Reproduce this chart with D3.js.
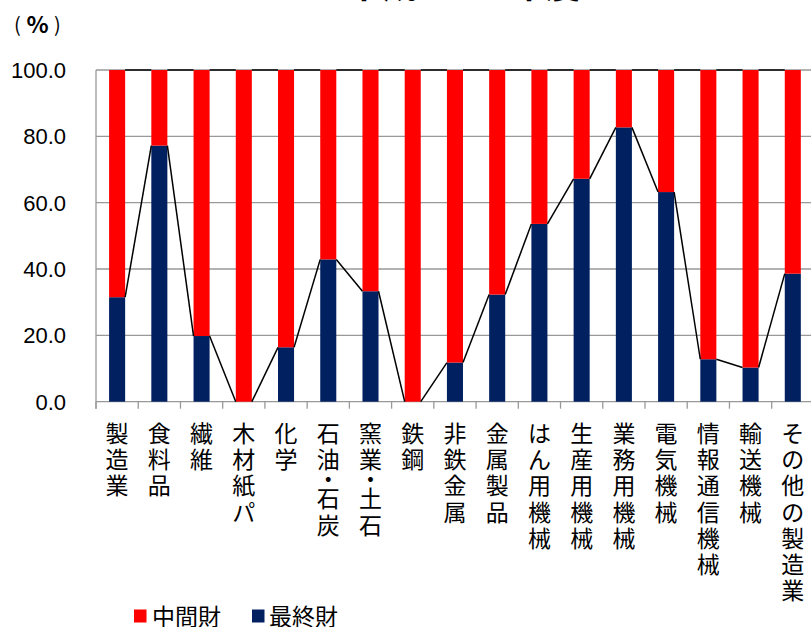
<!DOCTYPE html>
<html><head><meta charset="utf-8">
<script src="https://cdn.jsdelivr.net/npm/d3@7"></script>
<style>
html,body{margin:0;padding:0;background:#fff;}
svg{display:block;}
</style></head>
<body>
<script>
const categories = ["製造業","食料品","繊維","木材紙パ","化学","石油・石炭","窯業・土石","鉄鋼","非鉄金属","金属製品","はん用機械","生産用機械","業務用機械","電気機械","情報通信機械","輸送機械","その他の製造業"];
const finalGoods = [31.5,77.2,19.8,0.0,16.4,42.9,33.3,0.0,11.8,32.3,53.6,67.2,82.7,63.2,12.8,10.3,38.6];
const intermediateGoods = finalGoods.map(v => +(100 - v).toFixed(1));
const yTicks = [0,20,40,60,80,100];
const seriesNames = ["中間財","最終財"];
const seriesColors = ["#ff0000","#002060"];

const W = 811, H = 627;
const svg = d3.select("body").append("svg").attr("width", W).attr("height", H);

const left = 96, step = 42.23;
const x = d3.scaleBand().domain(categories).range([left, left + step*categories.length]).paddingInner(0.62).paddingOuter(0.31);
const y = d3.scaleLinear().domain([0,100]).range([401.7, 70]);

// title (clipped at top)
const tfont = "'Noto Sans CJK JP', sans-serif";
svg.append("text").attr("x",346).attr("y",-2).attr("font-family",tfont).attr("font-size",36).attr("font-weight","bold").text("平成23");
svg.append("text").attr("x",509).attr("y",-2).attr("font-family",tfont).attr("font-size",36).attr("font-weight","bold").text("年度");

// unit label
const u = svg.append("text").attr("font-family",tfont).attr("text-anchor","middle");
u.append("tspan").attr("x",17.5).attr("y",23).attr("dominant-baseline","central").attr("font-size",20).text("(");
u.append("tspan").attr("x",37.5).attr("y",23).attr("dominant-baseline","central").attr("font-size",23).attr("font-weight","bold").text("%");
u.append("tspan").attr("x",57.5).attr("y",23).attr("dominant-baseline","central").attr("font-size",20).text(")");

// gridlines
svg.append("g").selectAll("line").data(yTicks).join("line")
  .attr("x1",left).attr("x2",W).attr("y1",d=>y(d)).attr("y2",d=>y(d))
  .attr("stroke","#999").attr("stroke-width",1.3);
// y axis line
svg.append("line").attr("x1",left).attr("x2",left).attr("y1",y(100)).attr("y2",y(0)+7).attr("stroke","#999").attr("stroke-width",1.3);

// y labels
svg.append("g").selectAll("text").data(yTicks).join("text")
  .attr("x",66).attr("y",d=>y(d)).attr("dy","0.36em").attr("text-anchor","end")
  .attr("font-family","'Liberation Sans', Arial, sans-serif").attr("font-size",22)
  .text(d=>d3.format(".1f")(d));

// x ticks
svg.append("g").selectAll("line").data(d3.range(categories.length+1)).join("line")
  .attr("x1",i=>left+i*x.step()).attr("x2",i=>left+i*x.step())
  .attr("y1",y(0)).attr("y2",y(0)+7).attr("stroke","#999").attr("stroke-width",1.3);

// bars
const bw = x.bandwidth();
const g = svg.append("g");
g.selectAll("rect.fin").data(categories).join("rect").attr("class","fin")
  .attr("x",d=>x(d)).attr("width",bw)
  .attr("y",(d,i)=>y(finalGoods[i])).attr("height",(d,i)=>y(0)-y(finalGoods[i]))
  .attr("fill",seriesColors[1]);
g.selectAll("rect.int").data(categories).join("rect").attr("class","int")
  .attr("x",d=>x(d)).attr("width",bw)
  .attr("y",(d,i)=>y(finalGoods[i]+intermediateGoods[i])).attr("height",(d,i)=>y(finalGoods[i])-y(finalGoods[i]+intermediateGoods[i]))
  .attr("fill",seriesColors[0]);

// series lines
const pairs = d3.range(categories.length-1);
g.selectAll("line.s1").data(pairs).join("line").attr("class","s1")
  .attr("x1",i=>x(categories[i])+bw).attr("x2",i=>x(categories[i+1]))
  .attr("y1",i=>y(finalGoods[i])).attr("y2",i=>y(finalGoods[i+1]))
  .attr("stroke","#000").attr("stroke-width",1.5);
g.selectAll("line.s2").data(pairs).join("line").attr("class","s2")
  .attr("x1",i=>x(categories[i])+bw).attr("x2",i=>x(categories[i+1]))
  .attr("y1",i=>y(finalGoods[i]+intermediateGoods[i])).attr("y2",i=>y(finalGoods[i+1]+intermediateGoods[i+1]))
  .attr("stroke","#000").attr("stroke-width",1.5);

// x labels (vertical, stacked)
const lab = svg.append("g").attr("font-family",tfont).attr("font-size",23);
categories.forEach(c => {
  const cx = x(c) + bw/2;
  let yy = 432;
  const t = lab.append("text").attr("text-anchor","middle");
  Array.from(c).forEach(ch => {
    if (ch === "・") {
      t.append("tspan").attr("x",cx).attr("y",yy-6.5).attr("dominant-baseline","central").text(ch);
      yy += 13;
    } else {
      t.append("tspan").attr("x",cx).attr("y",yy).attr("dominant-baseline","central").text(ch);
      yy += 26.2;
    }
  });
});

// legend
const leg = svg.append("g");
const legX = [134, 252], textX = [152, 269];
seriesNames.forEach((n,i)=>{
  leg.append("rect").attr("x",legX[i]).attr("y",609.5).attr("width",12.5).attr("height",13).attr("fill",seriesColors[i]);
  leg.append("text").attr("x",textX[i]).attr("y",615).attr("dominant-baseline","central")
    .attr("font-family",tfont).attr("font-size",23).text(n);
});
</script>
</body></html>
